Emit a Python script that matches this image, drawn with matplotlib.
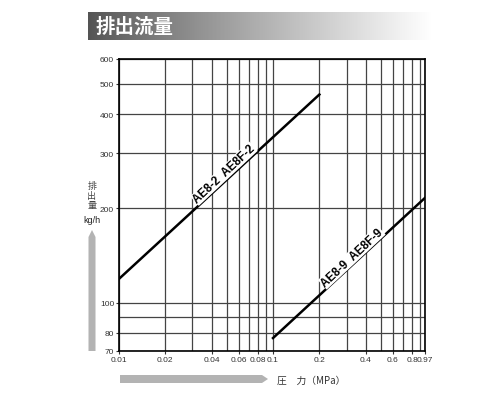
import numpy as np
import matplotlib
matplotlib.use('Agg')
import matplotlib.pyplot as plt
from matplotlib.patches import Polygon

plt.rcParams['font.family'] = ['Noto Sans CJK JP', 'DejaVu Sans']

# pressure (MPa) vs discharge (kg/h), straight lines on log-log paper
ae82_x = [0.01, 0.2]
ae82_y = [119, 462]
ae89_x = [0.1, 0.97]
ae89_y = [77, 216]

x_grid = [0.01, 0.02, 0.03, 0.04, 0.05, 0.06, 0.07, 0.08, 0.09, 0.1,
          0.2, 0.3, 0.4, 0.5, 0.6, 0.7, 0.8, 0.9, 0.97]
x_ticks = [0.01, 0.02, 0.04, 0.06, 0.08, 0.1, 0.2, 0.4, 0.6, 0.8, 0.97]
x_labels = ['0.01', '0.02', '0.04', '0.06', '0.08', '0.1', '0.2', '0.4', '0.6', '0.8', '0.97']
y_grid = [70, 80, 90, 100, 200, 300, 400, 500, 600]
y_ticks = [70, 80, 100, 200, 300, 400, 500, 600]
y_labels = ['70', '80', '100', '200', '300', '400', '500', '600']

W, H = 500, 406
fig = plt.figure(figsize=(W / 100, H / 100), dpi=100)

# decoration layer in pixel coordinates
deco = fig.add_axes([0, 0, 1, 1], zorder=0)
deco.set_xlim(0, W)
deco.set_ylim(H, 0)
deco.axis('off')

# gradient title bar
grad = np.linspace(0, 1, 256)
cols = np.zeros((1, 256, 3))
start = np.array([0.33, 0.33, 0.33])
cols[0] = start + (1 - start) * grad[:, None] ** 0.9
deco.imshow(cols, extent=(88, 432, 41, 13), aspect='auto')
deco.text(96, 27.5, '排出流量', color='white', fontsize=14, fontweight='bold',
          va='center', ha='left')

# y label and arrow
for yy, ch in zip([187, 196.5, 206], ['排', '出', '量']):
    deco.text(92, yy, ch, fontsize=6.5, color='#444444', ha='center', va='center')
deco.text(92, 221, 'kg/h', fontsize=6.5, color='#222222', ha='center', va='center',
          family='Liberation Sans')
deco.add_patch(Polygon([(88.5, 352), (95.5, 352), (95.5, 238), (92, 231), (88.5, 238)],
                       closed=True, color='#b3b3b3', lw=0))

# x label and arrow
deco.add_patch(Polygon([(120, 376), (262, 376), (268, 380), (262, 384), (120, 384)],
                       closed=True, color='#b3b3b3', lw=0))
deco.text(277, 380.5, '圧　力（MPa）', fontsize=7, color='#333333', ha='left', va='center')

ax = fig.add_axes([119 / W, 1 - 352 / H, (425 - 119) / W, (352 - 60) / H], zorder=1)
ax.patch.set_alpha(0)
ax.set_xscale('log')
ax.set_yscale('log')
ax.set_xlim(0.01, 0.97)
ax.set_ylim(70, 600)

for xv in x_grid:
    ax.axvline(xv, color='#444444', lw=0.9, zorder=1)
for yv in y_grid:
    ax.axhline(yv, color='#444444', lw=0.9, zorder=1)

ax.plot(ae82_x, ae82_y, color='black', lw=1.8, zorder=3)
ax.plot(ae89_x, ae89_y, color='black', lw=1.8, zorder=3)

ax.text(0.051, 250, 'AE8-2  AE8F-2', fontsize=8.5, fontweight='bold', rotation=43,
        rotation_mode='anchor', ha='center', va='bottom', family='Liberation Sans',
        bbox=dict(facecolor='white', edgecolor='none', pad=0.3), zorder=4)
ax.text(0.345, 135, 'AE8-9  AE8F-9', fontsize=8.5, fontweight='bold', rotation=43,
        rotation_mode='anchor', ha='center', va='bottom', family='Liberation Sans',
        bbox=dict(facecolor='white', edgecolor='none', pad=0.3), zorder=4)

ax.xaxis.set_minor_locator(matplotlib.ticker.NullLocator())
ax.yaxis.set_minor_locator(matplotlib.ticker.NullLocator())
ax.set_xticks(x_ticks)
ax.set_xticklabels(x_labels, family='Liberation Sans')
ax.set_yticks(y_ticks)
ax.set_yticklabels(y_labels, family='Liberation Sans')
ax.tick_params(axis='both', labelsize=6, colors='#333333', length=2, width=0.8, pad=1.5)
for s in ax.spines.values():
    s.set_color('black')
    s.set_linewidth(1.2)

fig.savefig('out.png', dpi=100)
